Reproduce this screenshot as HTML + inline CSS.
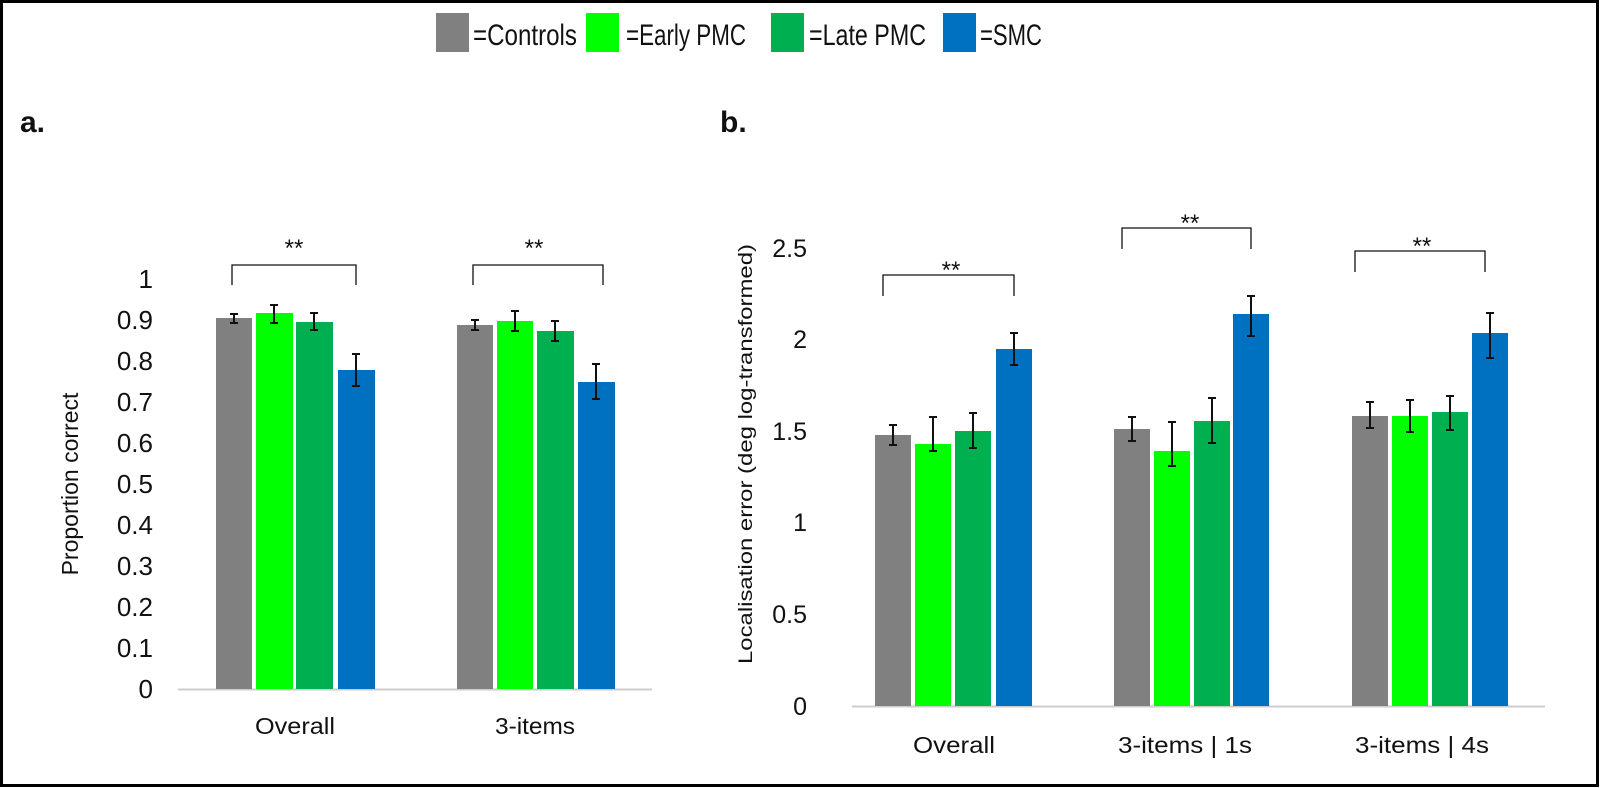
<!DOCTYPE html>
<html><head><meta charset="utf-8"><style>
html,body{margin:0;padding:0;background:#fff;}
svg{display:block;}
text{font-family:"Liberation Sans",sans-serif;fill:#111;}
</style></head><body>
<svg width="1600" height="788" viewBox="0 0 1600 788" xmlns="http://www.w3.org/2000/svg">
<rect x="1.5" y="1.5" width="1596" height="784" fill="#fff" stroke="#000" stroke-width="3"/>
<!-- legend -->
<rect x="436" y="13" width="33" height="39" fill="#808080"/>
<text x="473" y="45" font-size="30" textLength="104" lengthAdjust="spacingAndGlyphs">=Controls</text>
<rect x="586" y="13" width="33" height="39" fill="#00ff00"/>
<text x="626" y="45" font-size="30" textLength="120" lengthAdjust="spacingAndGlyphs">=Early PMC</text>
<rect x="771" y="13" width="33" height="39" fill="#00b050"/>
<text x="809" y="45" font-size="30" textLength="117" lengthAdjust="spacingAndGlyphs">=Late PMC</text>
<rect x="943" y="13" width="33" height="39" fill="#0070c0"/>
<text x="980" y="45" font-size="30" textLength="62" lengthAdjust="spacingAndGlyphs">=SMC</text>
<text x="20" y="132" font-size="30" font-weight="bold">a.</text>
<text x="720" y="132" font-size="30" font-weight="bold">b.</text>

<!-- chart a -->
<g font-size="26" text-anchor="end">
<text x="153" y="698">0</text><text x="153" y="657">0.1</text><text x="153" y="616">0.2</text><text x="153" y="575">0.3</text><text x="153" y="534">0.4</text><text x="153" y="493">0.5</text><text x="153" y="452">0.6</text><text x="153" y="411">0.7</text><text x="153" y="370">0.8</text><text x="153" y="329">0.9</text><text x="153" y="288">1</text>
</g>
<text transform="translate(78,484) rotate(-90)" font-size="23" text-anchor="middle">Proportion correct</text>
<line x1="178" y1="689.5" x2="652" y2="689.5" stroke="#ccc" stroke-width="2"/>
<g stroke="none">
<rect x="216" y="318" width="36" height="371" fill="#808080"/>
<rect x="256" y="313" width="37" height="376" fill="#00ff00"/>
<rect x="296" y="322" width="37" height="367" fill="#00b050"/>
<rect x="338" y="370" width="37" height="319" fill="#0070c0"/>
<rect x="457" y="325" width="36" height="364" fill="#808080"/>
<rect x="497" y="321" width="36" height="368" fill="#00ff00"/>
<rect x="537" y="331" width="37" height="358" fill="#00b050"/>
<rect x="578" y="382" width="37" height="307" fill="#0070c0"/>
</g>
<g stroke="#111" stroke-width="2" fill="none">
<path d="M234 314v9M230 314h8M230 323h8"/>
<path d="M274 305v18M270 305h8M270 323h8"/>
<path d="M314 313v17M310 313h8M310 330h8"/>
<path d="M356 354v32M352 354h8M352 386h8"/>
<path d="M475 320v10M471 320h8M471 330h8"/>
<path d="M515 311v20M511 311h8M511 331h8"/>
<path d="M555 321v20M551 321h8M551 341h8"/>
<path d="M596 364v35M592 364h8M592 399h8"/>
<path d="M232 285v-20h124v20" stroke-width="1.3"/>
<path d="M473 285v-20h130v20" stroke-width="1.3"/>
</g>
<text x="294" y="256" font-size="24" text-anchor="middle">**</text>
<text x="534" y="256" font-size="24" text-anchor="middle">**</text>
<text x="295" y="734" font-size="23" text-anchor="middle" textLength="80" lengthAdjust="spacingAndGlyphs">Overall</text>
<text x="535" y="734" font-size="23" text-anchor="middle" textLength="80" lengthAdjust="spacingAndGlyphs">3-items</text>

<!-- chart b -->
<g font-size="25" text-anchor="end">
<text x="807" y="715">0</text><text x="807" y="623">0.5</text><text x="807" y="531">1</text><text x="807" y="440">1.5</text><text x="807" y="348">2</text><text x="807" y="257">2.5</text>
</g>
<text transform="translate(752,454) rotate(-90)" font-size="19" text-anchor="middle" textLength="420" lengthAdjust="spacingAndGlyphs">Localisation error (deg log-transformed)</text>
<line x1="852" y1="706.5" x2="1545" y2="706.5" stroke="#ccc" stroke-width="2"/>
<g>
<rect x="875" y="435" width="36" height="271" fill="#808080"/>
<rect x="915" y="444" width="36" height="262" fill="#00ff00"/>
<rect x="955" y="431" width="36" height="275" fill="#00b050"/>
<rect x="996" y="349" width="36" height="357" fill="#0070c0"/>
<rect x="1114" y="429" width="36" height="277" fill="#808080"/>
<rect x="1154" y="451" width="36" height="255" fill="#00ff00"/>
<rect x="1194" y="421" width="36" height="285" fill="#00b050"/>
<rect x="1233" y="314" width="36" height="392" fill="#0070c0"/>
<rect x="1352" y="416" width="36" height="290" fill="#808080"/>
<rect x="1392" y="416" width="36" height="290" fill="#00ff00"/>
<rect x="1432" y="412" width="36" height="294" fill="#00b050"/>
<rect x="1472" y="333" width="36" height="373" fill="#0070c0"/>
</g>
<g stroke="#111" stroke-width="2" fill="none">
<path d="M893 425v20M889 425h8M889 445h8"/>
<path d="M933 417v34M929 417h8M929 451h8"/>
<path d="M973 413v35M969 413h8M969 448h8"/>
<path d="M1014 333v32M1010 333h8M1010 365h8"/>
<path d="M1132 417v24M1128 417h8M1128 441h8"/>
<path d="M1172 422v44M1168 422h8M1168 466h8"/>
<path d="M1212 398v45M1208 398h8M1208 443h8"/>
<path d="M1251 296v40M1247 296h8M1247 336h8"/>
<path d="M1370 402v26M1366 402h8M1366 428h8"/>
<path d="M1410 400v32M1406 400h8M1406 432h8"/>
<path d="M1450 396v34M1446 396h8M1446 430h8"/>
<path d="M1490 313v45M1486 313h8M1486 358h8"/>
<path d="M883 296v-21h131v21" stroke-width="1.3"/>
<path d="M1122 249v-21h129v21" stroke-width="1.3"/>
<path d="M1355 272v-21h130v21" stroke-width="1.3"/>
</g>
<text x="951" y="278" font-size="24" text-anchor="middle">**</text>
<text x="1190" y="231" font-size="24" text-anchor="middle">**</text>
<text x="1422" y="254" font-size="24" text-anchor="middle">**</text>
<text x="954" y="753" font-size="23" text-anchor="middle" textLength="82" lengthAdjust="spacingAndGlyphs">Overall</text>
<text x="1185" y="753" font-size="23" text-anchor="middle" textLength="134" lengthAdjust="spacingAndGlyphs">3-items | 1s</text>
<text x="1422" y="753" font-size="23" text-anchor="middle" textLength="134" lengthAdjust="spacingAndGlyphs">3-items | 4s</text>
</svg>
</body></html>
